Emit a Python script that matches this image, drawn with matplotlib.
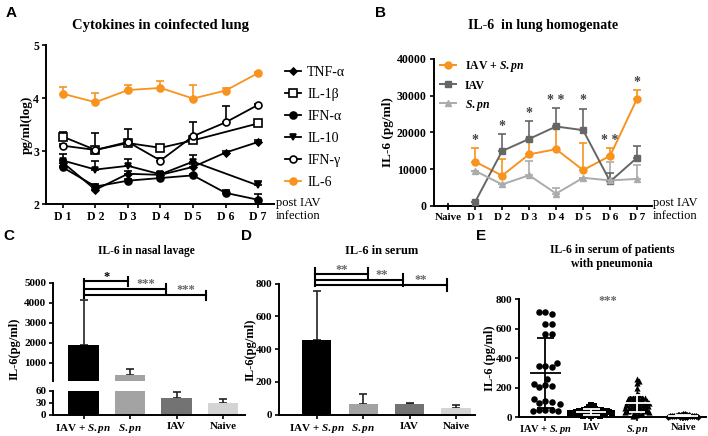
import numpy as np
import matplotlib.pyplot as plt

plt.rcParams['font.family'] = 'Liberation Serif'
plt.rcParams['font.weight'] = 'bold'
plt.rcParams['mathtext.fontset'] = 'custom'
plt.rcParams['mathtext.it'] = 'Liberation Serif:italic:bold'
plt.rcParams['mathtext.rm'] = 'Liberation Serif:bold'
plt.rcParams['axes.linewidth'] = 1.4
plt.rcParams['xtick.major.width'] = 1.2
plt.rcParams['ytick.major.width'] = 1.2
plt.rcParams['xtick.major.size'] = 3
plt.rcParams['ytick.major.size'] = 3

# ---- data ----
# A: cytokines in coinfected lung (log pg/ml), D1..D7
days = ['D 1', 'D 2', 'D 3', 'D 4', 'D 5', 'D 6', 'D 7']
tnf = [2.78, 2.27, 2.57, 2.55, 2.70, 2.97, 3.17]
tnf_err = [0.05, 0.05, 0.05, 0.04, 0.05, 0.03, 0.04]
il1b = [3.27, 3.02, 3.15, 3.06, 3.20, np.nan, 3.52]
il1b_err = [0.08, 0.32, 0.06, 0.06, 0.05, np.nan, 0.04]
ifna = [2.69, 2.33, 2.44, 2.49, 2.54, 2.21, 2.08]
ifna_err = [0.03, 0.04, 0.03, 0.03, 0.03, 0.06, 0.10]
il10 = [2.82, 2.65, 2.72, 2.56, 2.80, np.nan, 2.35]
il10_err = [0.12, 0.17, 0.12, 0.04, 0.12, np.nan, 0.09]
ifng = [3.10, 3.02, 3.17, 2.82, 3.28, 3.54, 3.87]
ifng_err = [0.04, 0.05, 0.25, 0.05, 0.27, 0.31, 0.02]
il6 = [4.08, 3.92, 4.15, 4.19, 3.99, 4.14, 4.47]
il6_err = [0.12, 0.18, 0.10, 0.14, 0.25, 0.04, 0.02]

# B: IL-6 in lung homogenate (pg/ml), Naive + D1..D7
groups_b = ['Naive', 'D 1', 'D 2', 'D 3', 'D 4', 'D 5', 'D 6', 'D 7']
naive_b = [0]
coinf_b = [12000, 8200, 14000, 15400, 9700, 13600, 29200]
coinf_b_err = [3800, 4600, 4300, 5800, 7500, 2100, 2300]
iav_b = [1000, 14900, 18200, 21600, 20600, 6600, 13100]
iav_b_err = [0, 4700, 5000, 5000, 5900, 2300, 3300]
spn_b = [9500, 5800, 8300, 3300, 7600, 6900, 7300]
spn_b_err = [0, 0, 3800, 1500, 0, 5000, 3900]
stars_b = ['*', '*', '*', '* *', '*', '* *', '*']

# C, D, E groups
bar_groups = ['IAV + $\\mathit{S.pn}$', '$\\mathit{S.pn}$', 'IAV', 'Naive']
c_vals = [1900, 370, 42, 29]
c_err = [2230, 340, 15, 10]
d_vals = [457, 67, 65, 43]
d_err = [300, 60, 8, 15]

e_groups = ['IAV + $\\mathit{S.pn}$', 'IAV', '$\\mathit{S.pn}$', 'Naive']
e_coinf = [712, 698, 712, 634, 634, 561, 561, 345, 341, 350, 364, 218, 209, 205,
           227, 261, 107, 102, 95, 125, 50, 48, 50, 45, 45, 88]
e_iav = [82, 75, 70, 62, 58, 55, 52, 50, 48, 46, 45, 44, 42, 40, 40, 38, 36, 35,
         34, 33, 32, 30, 30, 28, 27, 26, 25, 24, 22, 20, 18, 16, 15, 12, 10, 8]
e_spn = [262, 245, 230, 200, 165, 150, 145, 140, 138, 135, 130, 128, 125, 120,
         118, 115, 112, 110, 108, 105, 102, 100, 98, 95, 92, 90, 88, 85, 82, 80,
         78, 75, 72, 70, 68, 65, 62, 60, 58, 55, 52, 50, 48, 45, 42, 40, 38, 35,
         30, 25, 20, 15, 10]
e_naive = [22, 20, 18, 16, 15, 14, 13, 12, 12, 11, 10, 10, 9, 8, 8, 7, 6, 5, 5, 4, 3, 2]

ORANGE = '#F7931E'
DGRAY = '#666666'
LGRAY = '#ababab'
bar_colors = ['black', '#a3a3a3', '#737373', '#d4d4d4']

W, H = 708, 436
def box(l, t, r, b):
    return [l / W, 1 - b / H, (r - l) / W, (b - t) / H]
def fx(p):
    return p / W
def fy(p):
    return 1 - p / H

def clean(ax, ysize=8.5, xsize=8.5):
    ax.spines['top'].set_visible(False)
    ax.spines['right'].set_visible(False)
    ax.tick_params(axis='y', labelsize=ysize, pad=2)
    ax.tick_params(axis='x', labelsize=xsize, pad=2)

def up_err(ax, x, y, e, color, **kw):
    y = np.asarray(y, float)
    e = np.asarray(e, float)
    ax.errorbar(x, y, yerr=[np.zeros_like(e), e], fmt='none', ecolor=color,
                elinewidth=1.2, capsize=3, capthick=1.2, **kw)

fig = plt.figure(figsize=(7.08, 4.36), dpi=100)

# ---- panel A ----
axA = fig.add_axes(box(46, 45, 274, 204))
xa = np.arange(1, 8)
specA = [
    ('TNF-α', tnf, tnf_err, 'D', 'black', 3.5, 'black'),
    ('IL-1β', il1b, il1b_err, 's', 'white', 5.5, 'black'),
    ('IFN-α', ifna, ifna_err, 'o', 'black', 5, 'black'),
    ('IL-10', il10, il10_err, 'v', 'black', 4.5, 'black'),
    ('IFN-γ', ifng, ifng_err, 'o', 'white', 5, 'black'),
    ('IL-6', il6, il6_err, 'o', ORANGE, 5, ORANGE),
]
for name, vals, errs, mk, mfc, ms, col in specA:
    v = np.asarray(vals, float)
    m = ~np.isnan(v)
    up_err(axA, xa[m], v[m], np.asarray(errs, float)[m], col, zorder=2)
    axA.plot(xa[m], v[m], color=col, lw=1.3, marker=mk, mfc=mfc, mec=col,
             mew=1.2, ms=ms, label=name, zorder=3)
axA.set_xlim(0.48, 7.49)
axA.set_ylim(2, 5)
axA.set_yticks([2, 3, 4, 5])
axA.set_xticks(xa)
axA.set_xticklabels(days)
clean(axA)
axA.legend(loc='upper left', bbox_to_anchor=(fx(279.5), fy(60)), bbox_transform=fig.transFigure,
           frameon=False, handlelength=1.15, handletextpad=0.45, labelspacing=0.65,
           borderaxespad=0,
           prop={'family': 'Liberation Serif', 'weight': 'normal', 'size': 10})
fig.text(fx(160), fy(25), 'Cytokines in coinfected lung', ha='center', va='center', size=10.5)
fig.text(fx(27), fy(125), 'pg/ml(log)', rotation=90, ha='center', va='center', size=9.5)
fig.text(fx(276), fy(203), 'post IAV', ha='left', va='center', size=9, weight='normal')
fig.text(fx(276), fy(216), 'infection', ha='left', va='center', size=9, weight='normal')

# ---- panel B ----
axB = fig.add_axes(box(433.5, 59, 651.7, 205.7))
xb = np.arange(1, 8)
up_err(axB, xb, spn_b, spn_b_err, LGRAY, zorder=2)
up_err(axB, xb, iav_b, iav_b_err, DGRAY, zorder=2)
up_err(axB, xb, coinf_b, coinf_b_err, ORANGE, zorder=2)
axB.plot(xb, coinf_b, color=ORANGE, lw=1.4, marker='o', ms=5, label='IAV + $\\mathit{S.pn}$', zorder=3)
axB.plot(xb, iav_b, color=DGRAY, lw=1.4, marker='s', ms=5, label='IAV', zorder=3)
axB.plot(xb, spn_b, color=LGRAY, lw=1.4, marker='^', ms=5, label='$\\mathit{S.pn}$', zorder=3)
axB.plot([0], naive_b, color='black', marker='+', ms=5, mew=1.2, ls='none', clip_on=False)
tops = np.maximum.reduce([np.add(coinf_b, coinf_b_err), np.add(iav_b, iav_b_err), np.add(spn_b, spn_b_err)])
for xi, t, s in zip(xb, tops, stars_b):
    axB.text(xi, t + 300, s, ha='center', va='bottom', size=10, color='#444444')
axB.set_xlim(-0.54, 7.54)
axB.set_ylim(0, 40000)
axB.set_yticks([0, 10000, 20000, 30000, 40000])
axB.set_xticks(np.arange(8))
axB.set_xticklabels(groups_b)
clean(axB, xsize=8)
axB.legend(loc='upper left', bbox_to_anchor=(fx(435), fy(54)), bbox_transform=fig.transFigure,
           frameon=False, handlelength=1.35, handletextpad=0.75, labelspacing=0.5,
           borderaxespad=0, prop={'size': 8.5})
fig.text(fx(543), fy(25), 'IL-6  in lung homogenate', ha='center', va='center', size=10)
fig.text(fx(388), fy(132), 'IL-6 (pg/ml)', rotation=90, ha='center', va='center', size=9.5)
fig.text(fx(653), fy(203), 'post IAV', ha='left', va='center', size=9, weight='normal')
fig.text(fx(653), fy(216), 'infection', ha='left', va='center', size=9, weight='normal')

# ---- panel C (broken axis) ----
xc = np.arange(4)
axC1 = fig.add_axes(box(53.3, 283, 245, 380.7))
axC2 = fig.add_axes(box(53.3, 390.7, 245, 414.7))
for ax in (axC1, axC2):
    ax.bar(xc, c_vals, width=0.65, color=bar_colors, zorder=2)
    ax.set_xlim(-0.65, 3.47)
    clean(ax, ysize=8, xsize=8)
up_err(axC1, xc[:2], c_vals[:2], c_err[:2], '#222222', zorder=1)
up_err(axC2, xc[2:], c_vals[2:], c_err[2:], '#222222', zorder=1)
axC1.set_ylim(100, 5000)
axC1.set_yticks([1000, 2000, 3000, 4000, 5000])
axC1.spines['bottom'].set_visible(False)
axC1.set_xticks([])
axC2.set_ylim(0, 60)
axC2.set_yticks([0, 30, 60])
axC2.set_xticks(xc)
axC2.set_xticklabels(bar_groups)
# significance brackets
kw = dict(color='black', lw=1.5, clip_on=False)
axC1.plot([0, 0], [4250, 5200], **kw)
for xe, yl, txt, tc in [(0.96, 5085, '*', 'black'), (1.78, 4715, '***', '#666666'), (2.64, 4385, '***', '#666666')]:
    axC1.plot([0, xe], [yl, yl], **kw)
    axC1.plot([xe, xe], [yl - 230, yl + 230], **kw)
    axC1.text(xe / 2 + 0.02 if tc == 'black' else xe - 0.45, yl - 60, txt, ha='center', va='bottom', size=9, color=tc)
fig.text(fx(146), fy(251), 'IL-6 in nasal lavage', ha='center', va='center', size=8.3)
fig.text(fx(15), fy(349), 'IL-6(pg/ml)', rotation=90, ha='center', va='center', size=9)

# ---- panel D ----
axD = fig.add_axes(box(279.3, 283.7, 475, 414.7))
axD.bar(xc, d_vals, width=0.63, color=bar_colors, zorder=2)
up_err(axD, xc, d_vals, d_err, '#222222', zorder=1)
axD.set_xlim(-0.81, 3.41)
axD.set_ylim(0, 800)
axD.set_yticks([0, 200, 400, 600, 800])
axD.set_xticks(xc)
axD.set_xticklabels(bar_groups)
clean(axD, ysize=8, xsize=8)
axD.plot([-0.04, -0.04], [784, 895], **kw)
for xe, yl in [(1.11, 858), (1.85, 823), (2.8, 793)]:
    axD.plot([-0.04, xe], [yl, yl], **kw)
    axD.plot([xe, xe], [yl - 35, yl + 35], **kw)
for xt, yt in [(0.53, 850), (1.39, 816), (2.23, 786)]:
    axD.text(xt, yt, '**', ha='center', va='bottom', size=9, color='#666666', clip_on=False)
fig.text(fx(382), fy(251), 'IL-6 in serum', ha='center', va='center', size=9)
fig.text(fx(251), fy(350), 'IL-6(pg/ml)', rotation=90, ha='center', va='center', size=9)

# ---- panel E (scatter dot plot) ----
def swarm(vals, d, xs=46.0, ys=0.148):
    placed, offs = [], []
    for v in vals:
        y = v * ys
        cands = [0.0]
        for px_, py_ in placed:
            dy = y - py_
            if abs(dy) < d:
                dx = np.sqrt(d * d - dy * dy)
                cands += [px_ + dx, px_ - dx]
        cands.sort(key=abs)
        for c in cands:
            if all((c - px_) ** 2 + (y - py_) ** 2 >= d * d - 1e-6 for px_, py_ in placed):
                break
        placed.append((c, y))
        offs.append(c / xs)
    return np.array(offs)

axE = fig.add_axes(box(519.3, 299, 706, 417.3))
specE = [(e_coinf, 'o', 22, 6.5, 'black'), (e_iav, 's', 20, 2.9, 'white'),
         (e_spn, '^', 20, 3.1, 'white'), (e_naive, 'D', 12, 1.9, 'white')]
for i, (vals, mk, s, d, lc) in enumerate(specE):
    off = swarm(vals, d)
    axE.scatter(i + off, vals, marker=mk, s=s, color='black', lw=0, zorder=2, clip_on=False)
    m, sd = np.mean(vals), np.std(vals, ddof=1)
    z = 1 if lc == 'black' else 3
    axE.hlines(m, i - 0.33, i + 0.33, color=lc, lw=1.3, zorder=z)
    axE.vlines(i, max(m - sd, 0), m + sd, color=lc, lw=1.3, zorder=z)
    axE.hlines([m + sd, max(m - sd, 0)], i - 0.18, i + 0.18, color=lc, lw=1.3, zorder=z)
axE.text(1.37, 745, '***', ha='center', va='bottom', size=9, color='#666666')
axE.set_xlim(-0.57, 3.5)
axE.set_ylim(0, 800)
axE.set_yticks([0, 200, 400, 600, 800])
axE.set_xticks(np.arange(4))
axE.set_xticklabels(e_groups)
clean(axE, ysize=8, xsize=7.5)
axE.tick_params(axis='x', pad=1)
fig.text(fx(612), fy(257), 'IL-6 in serum of patients\nwith pneumonia', ha='center', va='center',
         size=8.5, linespacing=1.15)
fig.text(fx(490), fy(358), 'IL-6 (pg/ml)', rotation=90, ha='center', va='center', size=9)

# panel letters
for lab, px, py in [('A', 11, 13), ('B', 380, 13), ('C', 9, 236), ('D', 246, 236), ('E', 481, 236)]:
    fig.text(fx(px), fy(py), lab, ha='center', va='center', size=11, weight='bold',
             family='Liberation Sans')

fig.savefig('out.png', dpi=100)
